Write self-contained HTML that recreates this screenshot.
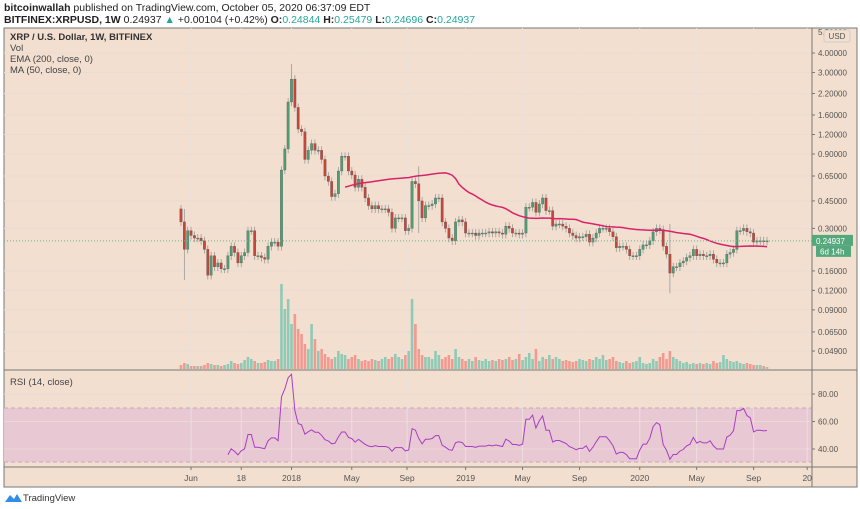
<!DOCTYPE html>
<html><head><meta charset="utf-8">
<style>
html,body{margin:0;padding:0;background:#fff;}
svg{display:block;font-family:"Liberation Sans",sans-serif;}
</style></head>
<body>
<svg id="chart" width="860" height="509" viewBox="0 0 860 509">
  <text x="4" y="11" font-size="10.5" fill="#222"><tspan font-weight="bold">bitcoinwallah</tspan> published on TradingView.com, October 05, 2020 06:37:09 EDT</text>
  <text x="4" y="23" font-size="10.5" fill="#222"><tspan font-weight="bold">BITFINEX:XRPUSD, 1W</tspan> 0.24937 <tspan fill="#26a69a">▲</tspan> +0.00104 (+0.42%) <tspan font-weight="bold">O:</tspan><tspan fill="#26a69a">0.24844</tspan> <tspan font-weight="bold">H:</tspan><tspan fill="#26a69a">0.25479</tspan> <tspan font-weight="bold">L:</tspan><tspan fill="#26a69a">0.24696</tspan> <tspan font-weight="bold">C:</tspan><tspan fill="#26a69a">0.24937</tspan></text>
  <rect x="4" y="28" width="853" height="459" fill="#f2dfcf" stroke="#777" stroke-width="1"/>
  <rect x="4" y="408" width="808" height="54" fill="#e8c8d2"/>
  <line x1="4" y1="408" x2="812" y2="408" stroke="#c9a6c0" stroke-dasharray="4,3"/>
  <line x1="4" y1="462" x2="812" y2="462" stroke="#c9a6c0" stroke-dasharray="4,3"/>
  <g id="grid"></g>
  <g id="vol"></g>
  <g id="candles"></g>
  <g id="lines"></g>
  <line x1="812" y1="28" x2="812" y2="487" stroke="#777"/>
  <line x1="4" y1="370" x2="857" y2="370" stroke="#777"/>
  <line x1="4" y1="467" x2="857" y2="467" stroke="#777"/>
  <g id="axes"></g>
  <text x="10" y="40" font-size="9.5" fill="#333" font-weight="bold">XRP / U.S. Dollar, 1W, BITFINEX</text>
  <text x="10" y="51" font-size="9.5" fill="#444">Vol</text>
  <text x="10" y="62" font-size="9.5" fill="#444">EMA (200, close, 0)</text>
  <text x="10" y="73" font-size="9.5" fill="#444">MA (50, close, 0)</text>
  <text x="10" y="385" font-size="9.5" fill="#444">RSI (14, close)</text>
  <rect x="824" y="30" width="26" height="12" rx="2" fill="#f2dfcf" stroke="#ccc"/>
  <text x="837" y="39" font-size="8" fill="#555" text-anchor="middle">USD</text>
  <g>
    <path d="M5 502 L10 495 L14 499 L17 494 L22 502 Z" fill="#2f8ee6"/>
    <text x="23" y="501" font-size="9.5" fill="#333">TradingView</text>
  </g>
</svg>
<script>
const closes = [0.33,0.22,0.29,0.27,0.26,0.26,0.25,0.22,0.15,0.20,0.17,0.18,0.165,0.165,0.20,0.23,0.21,0.18,0.20,0.21,0.29,0.29,0.20,0.20,0.195,0.19,0.23,0.245,0.245,0.23,0.71,0.97,1.94,2.72,1.79,
1.3,1.25,0.83,0.95,1.05,0.95,0.95,0.83,0.65,0.60,0.48,0.50,0.70,0.87,0.87,0.70,0.66,0.55,0.62,0.55,0.47,0.42,0.40,0.42,0.40,0.40,0.40,0.38,0.30,0.35,0.35,0.35,0.29,0.30,0.60,0.58,0.45,0.35,0.42,0.42,0.43,0.47,0.47,0.33,0.30,0.26,0.25,0.33,0.34,0.33,
0.28,0.28,0.28,0.27,0.28,0.28,0.28,0.285,0.28,0.285,0.28,0.275,0.31,0.30,0.28,0.28,0.275,0.28,0.41,0.41,0.44,0.38,0.43,0.47,0.39,0.39,0.31,0.32,0.32,0.31,0.30,0.28,0.27,0.26,0.265,0.265,0.275,0.245,0.26,0.28,0.30,0.30,0.30,0.285,0.265,0.225,0.23,0.23,0.22,0.20,0.20,0.20,0.22,0.235,0.235,0.25,0.285,0.30,0.295,0.23,0.205,0.155,0.17,0.17,0.18,0.185,0.195,0.20,0.22,0.20,0.205,0.20,0.20,0.205,0.19,0.18,0.18,0.18,0.205,0.21,0.22,0.29,0.29,0.30,0.285,0.28,0.245,0.25,0.25,0.24844,0.24937];
const firstOpen = 0.40;
const volumes = [4,6,5,3,3,3,3,4,6,5, 4,4,3,4,5,8,6,5,6,9, 12,10,8,6,6,7,9,8,8,10, 85,60,70,45,55,40,35,25,20,45,
30,18,20,15,12,10,12,18,15,14, 10,12,14,10,8,9,8,10,9,8, 10,12,10,12,15,12,10,14,18,70, 45,20,14,12,12,10,18,14,10,12,
14,10,20,12,10,8,10,8,12,9, 8,10,8,9,8,10,9,10,12,9, 10,15,9,12,16,10,20,8,12,10, 14,10,12,10,8,9,8,7,8,10,
9,8,10,9,12,10,14,9,10,12, 8,7,6,8,6,7,8,12,6,5, 6,10,8,12,16,10,18,12,10,8, 6,7,5,6,5,6,5,6,5,8,
6,7,14,10,8,7,8,6,5,6, 5,4,4,4,3,2];
const spikeIdx = [1,33,71,146];
const spikeHigh = [0.40,3.40,0.75,0.32];
const spikeLow = [0.14,2.3,0.28,0.115];
const priceTicks = [4.0,3.0,2.2,1.6,1.2,0.9,0.65,0.45,0.30,0.16,0.12,0.09,0.065,0.049];
const rsiTicks = [80,60,40];
const timeLabels = ["Jun","18","2018","May","Sep","2019","May","Sep","2020","May","Sep","20"];
const timeIdx = [3,18,33,51,67.5,85,102,119,137,154,171,187];

const NS="http://www.w3.org/2000/svg";
function mk(tag,attrs,parent){const e=document.createElementNS(NS,tag);for(const k in attrs)e.setAttribute(k,attrs[k]);parent.appendChild(e);return e;}
const N=closes.length;
const xS = i => 181 + i*(586/175);
const yP = p => 53 + (Math.log(4)-Math.log(p))*67.7;
const yR = v => 449 - (v-40)*27.5/20;
const G=id=>document.getElementById(id);
const grid=G('grid'),vol=G('vol'),cg=G('candles'),lg=G('lines'),ax=G('axes');

priceTicks.forEach(p=>{
  const l=mk('line',{x1:4,x2:812,y1:yP(p),y2:yP(p),stroke:'#e9dcd6','stroke-width':1},grid);
  
  
  const t=mk('text',{x:818,y:yP(p)+3,'font-size':8,fill:'#555'},ax);
  t.textContent=p.toFixed(5);
  
  
  mk('line',{x1:812,x2:815,y1:yP(p),y2:yP(p),stroke:'#777'},ax);
});
{const t=mk('text',{x:818,y:35,'font-size':8,fill:'#555'},ax);t.textContent='5.50000';

}
rsiTicks.forEach(v=>{
  const l=mk('line',{x1:4,x2:812,y1:yR(v),y2:yR(v),stroke:'#ebd8d8'},grid);
  
  
  const t=mk('text',{x:818,y:yR(v)+3,'font-size':8,fill:'#555'},ax);
  t.textContent=v.toFixed(2);
  
  
  mk('line',{x1:812,x2:815,y1:yR(v),y2:yR(v),stroke:'#777'},ax);
});
timeLabels.forEach((s,k)=>{
  const x=xS(timeIdx[k]);
  if(x<812){const l=mk('line',{x1:x,x2:x,y1:28,y2:467,stroke:'#ebe0dc'},grid);
  
  
  mk('line',{x1:x,x2:x,y1:467,y2:470,stroke:'#777'},ax);}
  const t=mk('text',{x:x,y:481,'font-size':8.5,fill:'#555','text-anchor':'middle'},ax);
  t.textContent=s;
  
  
});

for(let i=0;i<N;i++){
  const o=i===0?firstOpen:closes[i-1], c=closes[i], up=c>=o;
  const x=xS(i);
  let hi=Math.max(o,c)*1.06, lo=Math.min(o,c)*0.94;
  const si=spikeIdx.indexOf(i);
  if(si>=0){hi=Math.max(hi,spikeHigh[si]);lo=Math.min(lo,spikeLow[si]);}
  const v=mk('rect',{x:x-1.3,y:369-volumes[i],width:2.6,height:volumes[i],fill:up?'#8fcab6':'#f29a90'},vol);
  
  
  const w=mk('line',{x1:x,x2:x,y1:yP(hi),y2:yP(lo),stroke:'#9a9a9a','stroke-width':0.8},cg);
  
  
  const y1=yP(Math.max(o,c)), y2=yP(Math.min(o,c));
  const b=mk('rect',{x:x-1.2,y:y1,width:2.4,height:Math.max(1,y2-y1),fill:up?'#4e9e74':'#c8453a',stroke:'#555','stroke-width':0.3},cg);
  
  
}

// MA 50
let pts=[];
for(let i=49;i<N;i++){let s=0;for(let k=i-49;k<=i;k++)s+=closes[k];pts.push(xS(i).toFixed(1)+','+yP(s/50).toFixed(1));}
const ma=mk('polyline',{points:pts.join(' '),fill:'none',stroke:'#d8236a','stroke-width':1.5},lg);



// RSI 14 (Wilder)
let ag=0,al=0;const rp=[];
for(let i=1;i<N;i++){
  const d=closes[i]-closes[i-1],g=Math.max(d,0),l=Math.max(-d,0);
  if(i<=14){ag+=g/14;al+=l/14;}else{ag=(ag*13+g)/14;al=(al*13+l)/14;}
  if(i>=14){const r=al===0?100:100-100/(1+ag/al);rp.push(xS(i).toFixed(1)+','+yR(r).toFixed(1));}
}
const rl=mk('polyline',{points:rp.join(' '),fill:'none',stroke:'#a83dc4','stroke-width':1},lg);



// last price
const lp=closes[N-1];
const dl=mk('line',{x1:4,x2:812,y1:yP(lp),y2:yP(lp),stroke:'#6cb08a','stroke-dasharray':'1,2'},lg);


const bx=mk('rect',{x:812,y:yP(lp)-6,width:41,height:11,fill:'#55a87c'},ax);


const bt=mk('text',{x:816,y:yP(lp)+3,'font-size':8,fill:'#fff'},ax);bt.textContent=lp.toFixed(5);


const cb=mk('rect',{x:816,y:yP(lp)+5,width:35,height:11,fill:'#55a87c'},ax);


const ct=mk('text',{x:820,y:yP(lp)+13.5,'font-size':8,fill:'#fff'},ax);ct.textContent='6d 14h';


</script>
</body></html>
